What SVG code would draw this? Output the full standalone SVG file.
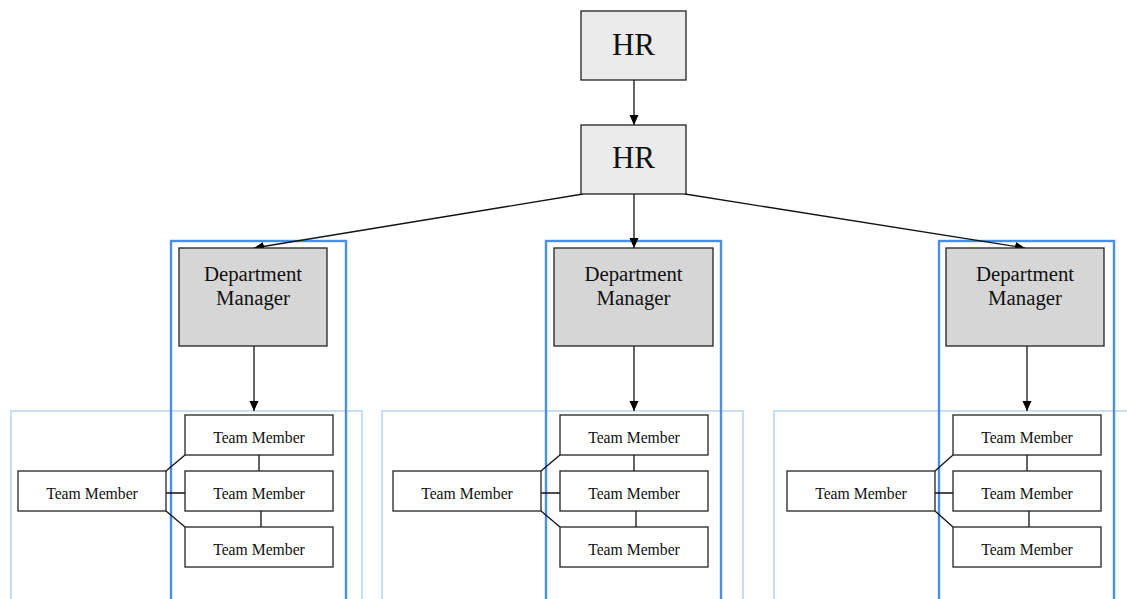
<svg xmlns="http://www.w3.org/2000/svg" width="1127" height="599" viewBox="0 0 1127 599">
<defs>
<marker id="arr" viewBox="0 0 10 10" refX="10" refY="5" markerWidth="10" markerHeight="10" markerUnits="userSpaceOnUse" orient="auto">
<path d="M0,0.5 L10,5 L0,9.5 Z" fill="#000"/>
</marker>
<style>
.outer{fill:none;stroke:#c9def3;stroke-width:2}
.inner{fill:none;stroke:#4a8fe5;stroke-width:2.4}
.hr{fill:#ebebeb;stroke:#222;stroke-width:1.3}
.dm{fill:#d6d6d6;stroke:#222;stroke-width:1.3}
.tm{fill:#fff;stroke:#222;stroke-width:1.3}
.e{fill:none;stroke:#111;stroke-width:1.3}
.ea{fill:none;stroke:#111;stroke-width:1.3;marker-end:url(#arr)}
text{font-family:"Liberation Serif","Times New Roman",serif;fill:#111;text-anchor:middle}
.t1{font-size:31px}
.t2{font-size:20.8px}
.t3{font-size:15.7px}
</style>
</defs>
<rect width="1127" height="599" fill="#fff"/>
<g id="clusters">
<rect class="outer" x="11" y="411" width="351" height="190"/>
<rect class="outer" x="382" y="411" width="361" height="190"/>
<rect class="outer" x="774" y="411" width="360" height="190"/>
<rect class="inner" x="171" y="241" width="175" height="365"/>
<rect class="inner" x="546" y="241" width="175" height="365"/>
<rect class="inner" x="939" y="241" width="175" height="365"/>
</g>
<g id="connectors">
<line class="ea" x1="634" y1="80" x2="634" y2="125"/>
<line class="ea" x1="583" y1="194" x2="254" y2="248"/>
<line class="ea" x1="634" y1="194" x2="634" y2="248"/>
<line class="ea" x1="685" y1="194" x2="1025" y2="248"/>
<line class="ea" x1="254" y1="346" x2="254" y2="411"/>
<line class="ea" x1="634" y1="346" x2="634" y2="411"/>
<line class="ea" x1="1027" y1="346" x2="1027" y2="411"/>
<path class="e" d="M166,471 L185,455 M166,493 L185,493 M166,511 L185,527 M259,455 L259,471 M261,511 L261,527"/>
<path class="e" d="M541,471 L560,455 M541,493 L560,493 M541,511 L560,527 M634,455 L634,471 M636,511 L636,527"/>
<path class="e" d="M935,471 L953,455 M935,493 L953,493 M935,511 L953,527 M1027,455 L1027,471 M1029,511 L1029,527"/>
</g>
<g id="hr1"><rect class="hr" x="581" y="11" width="105" height="69"/><text class="t1" x="633.5" y="55">HR</text></g>
<g id="hr2"><rect class="hr" x="581" y="125" width="105" height="69"/><text class="t1" x="633.5" y="168">HR</text></g>
<g id="dm1"><rect class="dm" x="179" y="248" width="148" height="98"/><text class="t2" x="253" y="281">Department</text><text class="t2" x="253" y="305">Manager</text></g>
<g id="dm2"><rect class="dm" x="554" y="248" width="159" height="98"/><text class="t2" x="633.5" y="281">Department</text><text class="t2" x="633.5" y="305">Manager</text></g>
<g id="dm3"><rect class="dm" x="946" y="248" width="158" height="98"/><text class="t2" x="1025" y="281">Department</text><text class="t2" x="1025" y="305">Manager</text></g>
<g id="tm1a"><rect class="tm" x="185" y="415" width="148" height="40"/><text class="t3" x="259" y="443">Team Member</text></g>
<g id="tm1b"><rect class="tm" x="185" y="471" width="148" height="40"/><text class="t3" x="259" y="499">Team Member</text></g>
<g id="tm1c"><rect class="tm" x="185" y="527" width="148" height="40"/><text class="t3" x="259" y="555">Team Member</text></g>
<g id="tm1l"><rect class="tm" x="18" y="471" width="148" height="40"/><text class="t3" x="92" y="499">Team Member</text></g>
<g id="tm2a"><rect class="tm" x="560" y="415" width="148" height="40"/><text class="t3" x="634" y="443">Team Member</text></g>
<g id="tm2b"><rect class="tm" x="560" y="471" width="148" height="40"/><text class="t3" x="634" y="499">Team Member</text></g>
<g id="tm2c"><rect class="tm" x="560" y="527" width="148" height="40"/><text class="t3" x="634" y="555">Team Member</text></g>
<g id="tm2l"><rect class="tm" x="393" y="471" width="148" height="40"/><text class="t3" x="467" y="499">Team Member</text></g>
<g id="tm3a"><rect class="tm" x="953" y="415" width="148" height="40"/><text class="t3" x="1027" y="443">Team Member</text></g>
<g id="tm3b"><rect class="tm" x="953" y="471" width="148" height="40"/><text class="t3" x="1027" y="499">Team Member</text></g>
<g id="tm3c"><rect class="tm" x="953" y="527" width="148" height="40"/><text class="t3" x="1027" y="555">Team Member</text></g>
<g id="tm3l"><rect class="tm" x="787" y="471" width="148" height="40"/><text class="t3" x="861" y="499">Team Member</text></g>
</svg>
